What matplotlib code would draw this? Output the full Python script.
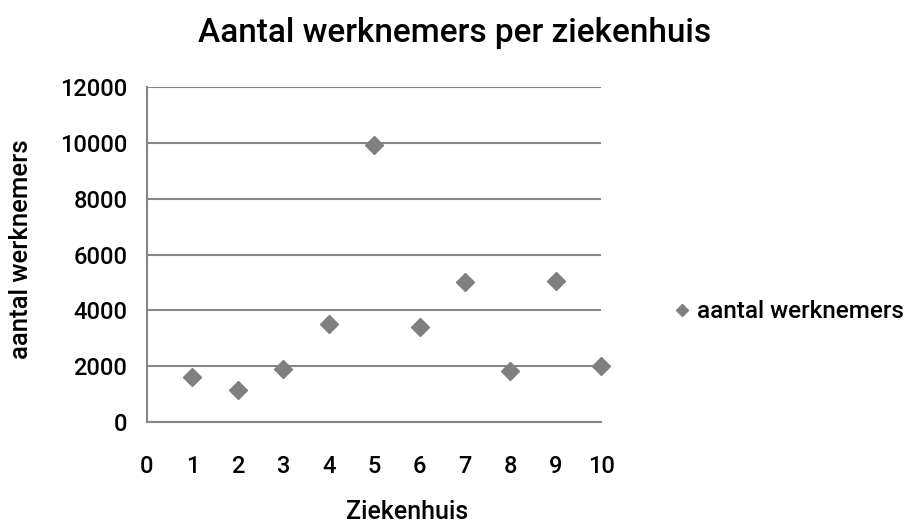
import matplotlib.pyplot as plt

plt.rcParams['font.family'] = ['Roboto', 'DejaVu Sans']
plt.rcParams['font.weight'] = 'medium'

ziekenhuis = [1, 2, 3, 4, 5, 6, 7, 8, 9, 10]
werknemers = [1610, 1160, 1900, 3500, 9940, 3410, 5000, 1830, 5070, 2010]

grey = '#7f7f7f'
line = '#868686'

fig = plt.figure(figsize=(9.07, 5.26), dpi=100)
ax = fig.add_axes([0.162, 0.198, 0.501, 0.636])

ax.plot(ziekenhuis, werknemers, 'D', color=grey, markersize=9,
        linestyle='none', label='aantal werknemers', clip_on=False)

ax.set_xlim(0, 10)
ax.set_ylim(0, 12000)
ax.set_xticks(range(0, 11))
ax.set_yticks(range(0, 12001, 2000))
ax.grid(axis='y', color=line, linewidth=1.5)
ax.set_axisbelow(True)

for s in ['top', 'right']:
    ax.spines[s].set_visible(False)
for s in ['left', 'bottom']:
    ax.spines[s].set_color(line)
    ax.spines[s].set_linewidth(1.5)

ax.tick_params(length=0, labelsize=17)
ax.tick_params(axis='x', pad=24)
ax.tick_params(axis='y', pad=14)
for lab in ax.get_xticklabels() + ax.get_yticklabels():
    lab.set_fontweight('medium')

# titles placed on the figure like the original layout
fig.text(407 / 907, 1 - 524 / 526, 'Ziekenhuis', fontsize=18,
         ha='center', va='bottom')
fig.text(21 / 907, 1 - 249 / 526, 'aantal werknemers', fontsize=18.5,
         rotation=90, ha='center', va='center')
fig.text(455 / 907, 1 - 42 / 526, 'Aantal werknemers per ziekenhuis',
         fontsize=24, ha='center', va='baseline')

fig.legend(loc='center left', bbox_to_anchor=(675 / 907, 1 - 312 / 526),
           frameon=False, fontsize=17.5, handlelength=0.6, handletextpad=0.3,
           markerscale=0.72, borderaxespad=0, borderpad=0)

fig.savefig('out.png', dpi=100)
